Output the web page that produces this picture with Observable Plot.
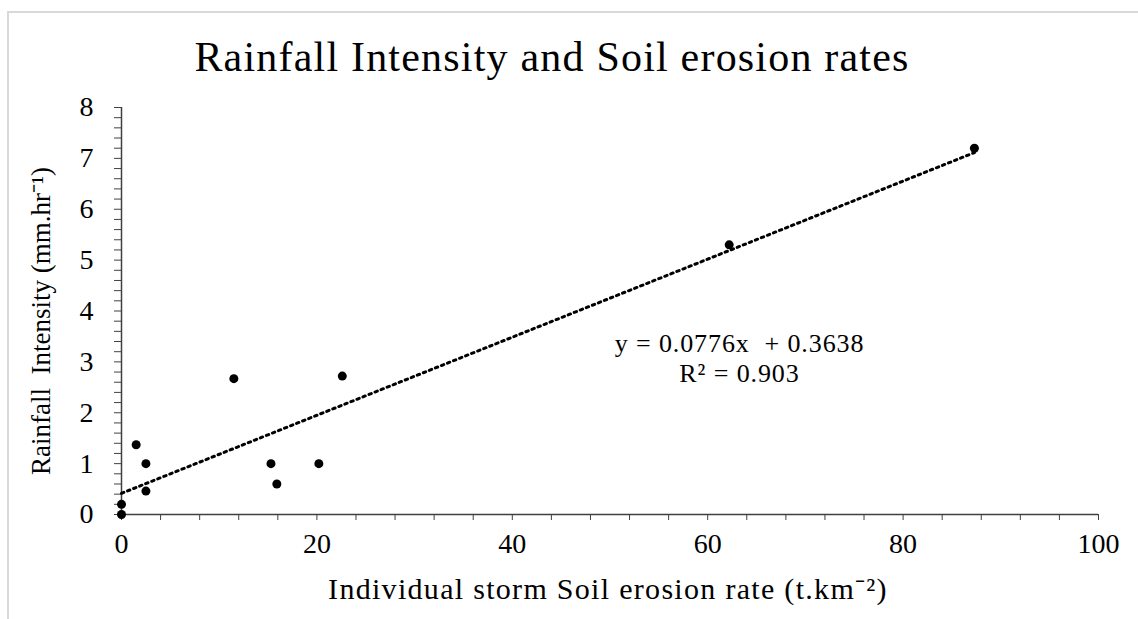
<!DOCTYPE html>
<html>
<head>
<meta charset="utf-8">
<script src="https://cdn.jsdelivr.net/npm/d3@7"></script>
<script src="https://cdn.jsdelivr.net/npm/@observablehq/plot@0.6"></script>
<style>
  html, body { margin: 0; padding: 0; background: #fff; }
  #wrap { position: relative; width: 1138px; height: 619px; overflow: hidden; background: #fff; }
  #border { position: absolute; left: 7px; top: 11px; width: 1200px; height: 700px; border: 2px solid #d9d9d9; box-sizing: border-box; }
  #chart { position: absolute; left: 0; top: 0; }
</style>
</head>
<body>
<div id="wrap"><div id="border"></div><div id="chart"></div></div>
<script>
const title = "Rainfall Intensity and Soil erosion rates";
const xLabel = "Individual storm Soil erosion rate (t.km\u207B\u00B2)";
const yLabel = "Rainfall  Intensity (mm.hr\u207B\u00B9)";
const equation = "y = 0.0776x  + 0.3638\nR\u00B2 = 0.903";

// Individual storm soil erosion rate (t.km-2)
const erosion = [0, 0, 1.5, 2.5, 2.5, 11.5, 15.3, 15.9, 20.2, 22.6, 62.2, 87.3];
// Rainfall intensity (mm.hr-1)
const intensity = [0, 0.2, 1.37, 1.0, 0.46, 2.67, 1.0, 0.6, 1.0, 2.72, 5.3, 7.2];

const xTicks = [0, 20, 40, 60, 80, 100];
const xMinorTicks = d3.range(0, 101, 4);
const yTicks = [0, 1, 2, 3, 4, 5, 6, 7, 8];
const yMinorTicks = d3.range(0, 41).map(i => i / 5);

const data = erosion.map((x, i) => ({x, y: intensity[i]}));
const axisColor = "#404040";

const chart = Plot.plot({
  width: 1138,
  height: 619,
  marginLeft: 121,
  marginRight: 40,
  marginTop: 107,
  marginBottom: 105,
  style: {fontFamily: "'Liberation Serif', 'Times New Roman', serif", color: "#000", background: "transparent", overflow: "visible"},
  x: {domain: [0, 100]},
  y: {domain: [0, 8]},
  marks: [
    Plot.axisY(yMinorTicks, {tickSize: 7, tickFormat: () => "", label: null, stroke: axisColor}),
    Plot.axisY(yTicks, {tickSize: 0, tickPadding: 28, fontSize: 28, tickFormat: d3.format("d"), label: null}),
    Plot.axisX(xMinorTicks, {tickSize: 6, tickFormat: () => "", label: null, stroke: axisColor}),
    Plot.axisX(xTicks, {tickSize: 0, tickPadding: 19, fontSize: 28, tickFormat: d3.format("d"), label: null}),
    Plot.ruleY([0], {stroke: axisColor, strokeWidth: 1.5}),
    Plot.ruleX([0], {stroke: axisColor, strokeWidth: 1.5}),
    Plot.linearRegressionY(data, {x: "x", y: "y", ci: 0, stroke: "#000", strokeWidth: 3, strokeDasharray: "2.5 4"}),
    Plot.dot(data, {x: "x", y: "y", r: 4.5, fill: "#000", stroke: null}),
    Plot.text([title], {frameAnchor: "top", dx: -58, dy: -66, fontSize: 42, fill: "#000"}),
    Plot.text([yLabel], {frameAnchor: "left", textAnchor: "middle", rotate: -90, dx: -80, dy: 10, fontSize: 27, fill: "#000"}),
    Plot.text([xLabel], {frameAnchor: "bottom", dx: -2, dy: 84, fontSize: 30, fill: "#000"}),
    Plot.text([equation], {frameAnchor: "top-left", textAnchor: "middle", dx: 618, dy: 223, fontSize: 26, lineHeight: 1.15, fill: "#000"})
  ]
});
document.getElementById("chart").appendChild(chart);
// widen letter spacing on the title and x label to match the reference's stretched text
const texts = chart.querySelectorAll('g[aria-label="text"]');
if (texts[0]) texts[0].style.letterSpacing = "1.2px";
if (texts[2]) texts[2].style.letterSpacing = "1.3px";
if (texts[3]) texts[3].style.letterSpacing = "0.9px";
</script>
</body>
</html>
